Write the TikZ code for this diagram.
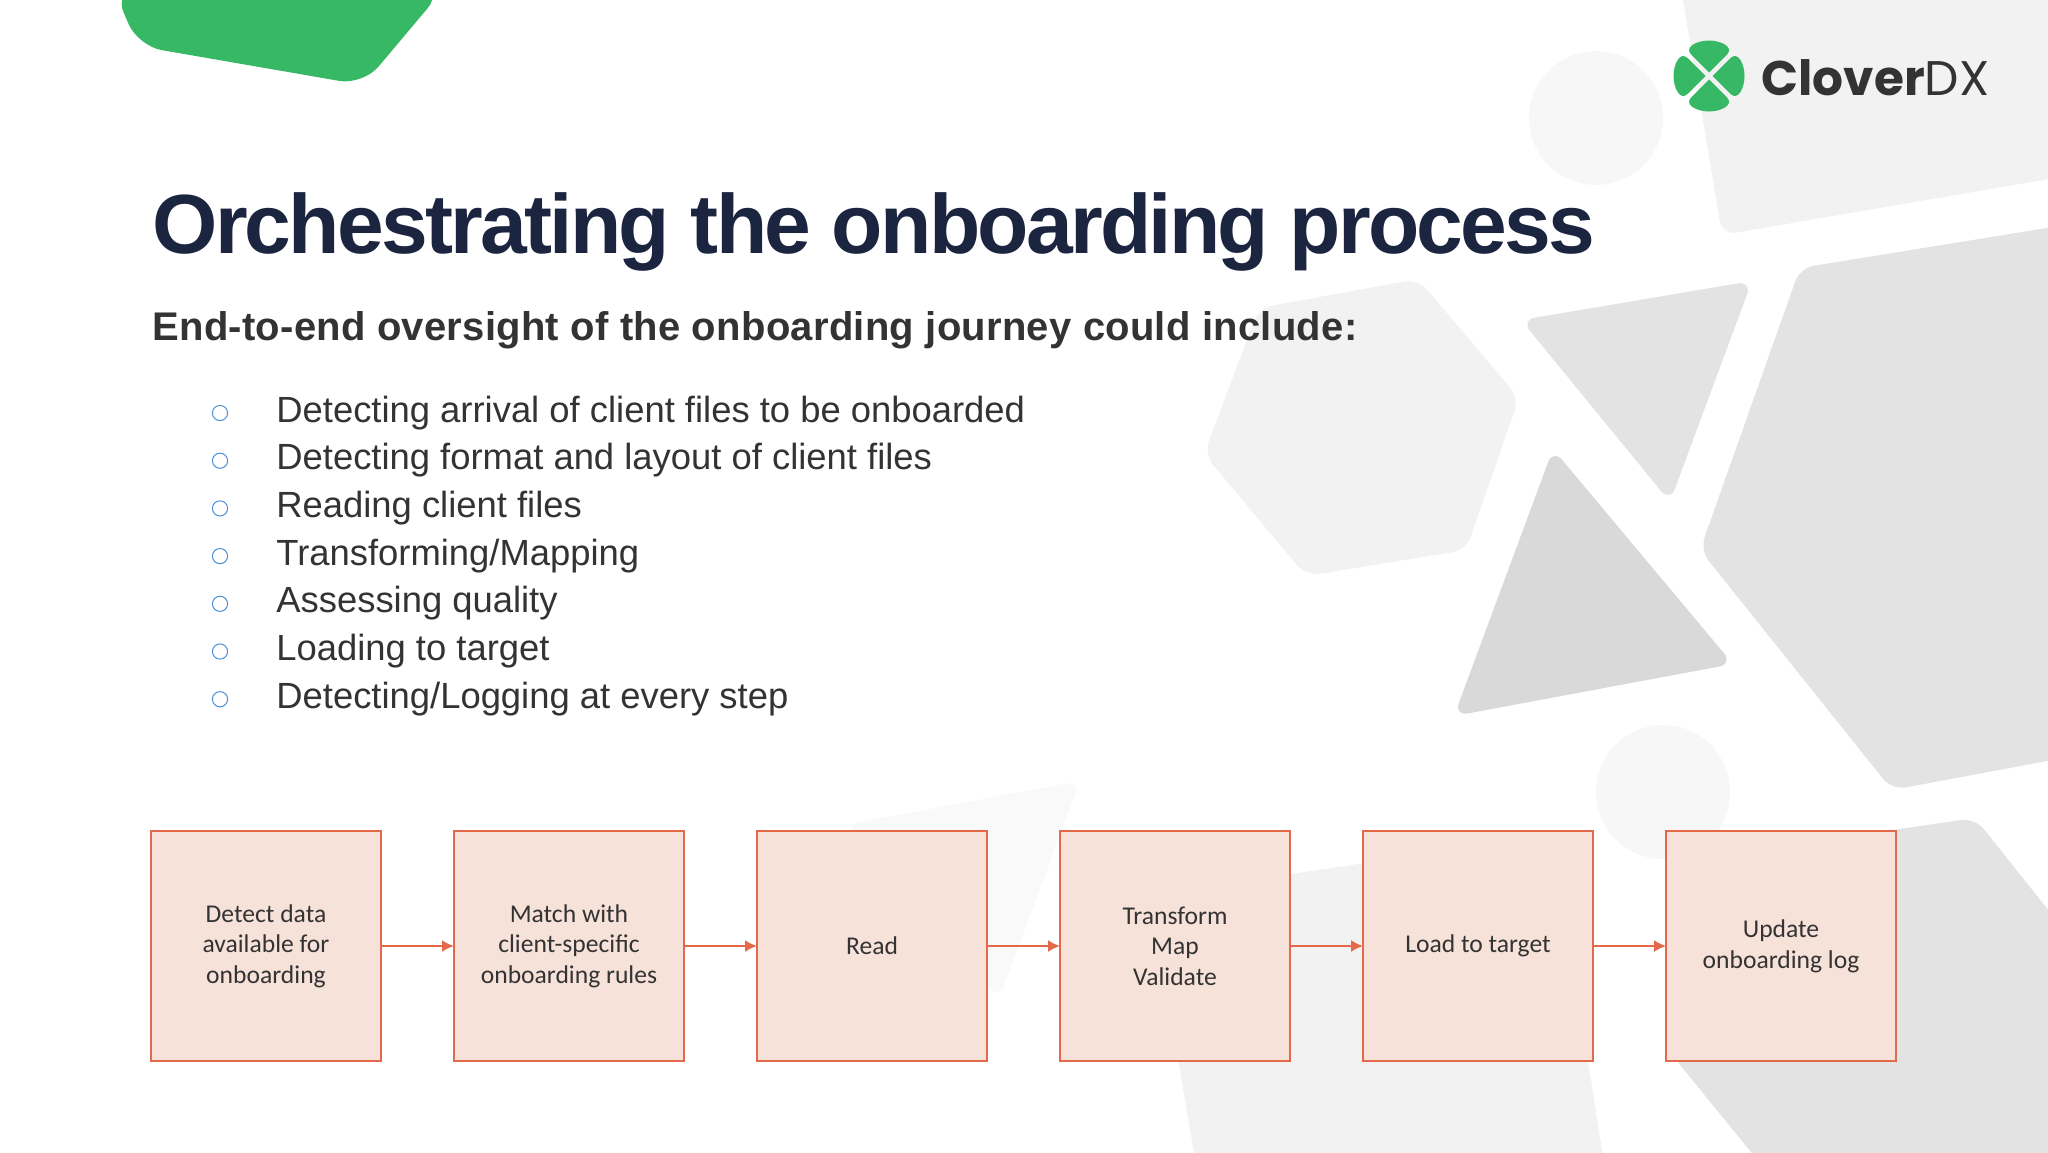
\documentclass[tikz,border=0pt]{standalone}
\usepackage{fontspec}
\setmainfont{Liberation Sans}
\newfontfamily\titlefont[LetterSpace=-3.27]{Liberation Sans}
\newfontfamily\subfont[LetterSpace=0.65]{Liberation Sans}
\newfontfamily\boxfont{Carlito}
\newfontfamily\logofont{Poppins}
\usetikzlibrary{positioning,arrows.meta}
\definecolor{cloverg}{HTML}{36B864}
\definecolor{titleb}{HTML}{1B2540}
\definecolor{textg}{HTML}{333333}
\definecolor{boxo}{HTML}{E4694A}
\definecolor{boxf}{HTML}{F7E2DA}
\definecolor{bullb}{HTML}{4A90D0}
\tikzset{
style1/.style= {draw=none,inner sep=0pt,text=titleb,anchor=base west,font=\titlefont\bfseries\fontsize{42}{50}\selectfont},
style2/.style= {draw=none,inner sep=0pt,text=textg,anchor=base west,font=\subfont\bfseries\fontsize{20}{24}\selectfont},
style3/.style= {draw=none,inner sep=0pt,text=textg,anchor=west,text height=12.5pt,text depth=3.5pt,font=\fontsize{18.2}{22}\selectfont},
style4/.style= {circle,draw=bullb,line width=0.5pt,inner sep=0pt,minimum size=7.6pt},
style5/.style= {rectangle,draw=boxo,fill=boxf,line width=1.05pt,minimum size=115pt,inner sep=2pt,outer sep=0pt,align=center,text=black!80,font=\boxfont\fontsize{12.8}{15.35}\selectfont},
style6/.style= {rounded corners=7pt},
}

\begin{document}
\begin{tikzpicture}[x=0.5pt,y=-0.5pt,>={Latex[length=6pt,width=6pt]},node distance=151.5pt]
\useasboundingbox (0,0) rectangle (2048,1152);

% background shapes
\fill[black!5,style6] (1678,-30) -- (1722,235) -- (2090,172) -- (2090,-30) -- cycle;
\fill[black!3] (1596,118) circle (67);
\fill[black!11,style6] (1800,268) -- (2090,221) -- (2090,753) -- (1892,790) -- (1700,550) -- cycle;
\fill[black!5,style6] (1418,279) -- (1519,398) -- (1466,550) -- (1306,576) -- (1204,454) -- (1259,308) -- cycle;
\fill[black!11,style6] (1521,320) -- (1752,281) -- (1670,502) -- cycle;
\fill[black!15,style6] (1553,449) -- (1733,664) -- (1454,716) -- cycle;
\fill[black!3] (1663,792) circle (67);
\fill[black!2.5,style6] (1080,781) -- (999,999) -- (845,825) -- cycle;
\fill[black!5] (1150,895) -- (1553,835) -- (1605,1170) -- (1197,1170) -- cycle;
\fill[black!11,style6] (1975,818) -- (2120,1000) -- (2120,1200) -- (1790,1200) -- (1672,1055) -- (1700,858) -- cycle;
\fill[cloverg,rounded corners=12pt] (114,-10) -- (138,46) -- (363,85) -- (443,-10) -- cycle;

% logo
\foreach \value in {0,90,180,270}
  \fill[cloverg,shift={(1709,76)},rotate=\value] (0,-3.5) -- (-18,-21.5) .. controls (-25,-29) and (-12,-35.5) .. (0,-35.5) .. controls (12,-35.5) and (25,-29) .. (18,-21.5) -- cycle;
\node[draw=none,inner sep=0pt,anchor=base west,text=black!80] (logo) at (1761,95) {\logofont\fontsize{24.3}{30}\selectfont\bfseries Clover\mdseries DX};

% headings
\node[style1] (title) at (152,253) {Orchestrating the onboarding process};
\node[style2] (sub) at (152,340) {End-to-end oversight of the onboarding journey could include:};

% list
\node[style3] (l1) at (276,413) {Detecting arrival of client files to be onboarded};
\node[style3, below=23.85pt of l1.west, anchor=west] (l2) {Detecting format and layout of client files};
\node[style3, below=23.85pt of l2.west, anchor=west] (l3) {Reading client files};
\node[style3, below=23.85pt of l3.west, anchor=west] (l4) {Transforming/Mapping};
\node[style3, below=23.85pt of l4.west, anchor=west] (l5) {Assessing quality};
\node[style3, below=23.85pt of l5.west, anchor=west] (l6) {Loading to target};
\node[style3, below=23.85pt of l6.west, anchor=west] (l7) {Detecting/Logging at every step};

\foreach \value in {1,...,7}
  \node[style4, xshift=-28pt] (b\value) at (l\value.west) {};

% process boxes
\node[style5] (c1) at (266,946) {Detect data\\available for\\onboarding};
\node[style5, right of = c1] (c2) {Match with\\client-specific\\onboarding rules};
\node[style5, right of = c2] (c3) {Read};
\node[style5, right of = c3] (c4) {Transform\\Map\\Validate};
\node[style5, right of = c4] (c5) {Load to target};
\node[style5, right of = c5] (c6) {Update\\onboarding log};

\foreach \value/\next in {1/2,2/3,3/4,4/5,5/6}
  \draw[->,draw=boxo,fill=boxo,line width=0.9pt] (c\value) -- (c\next);
\end{tikzpicture}
\end{document}
